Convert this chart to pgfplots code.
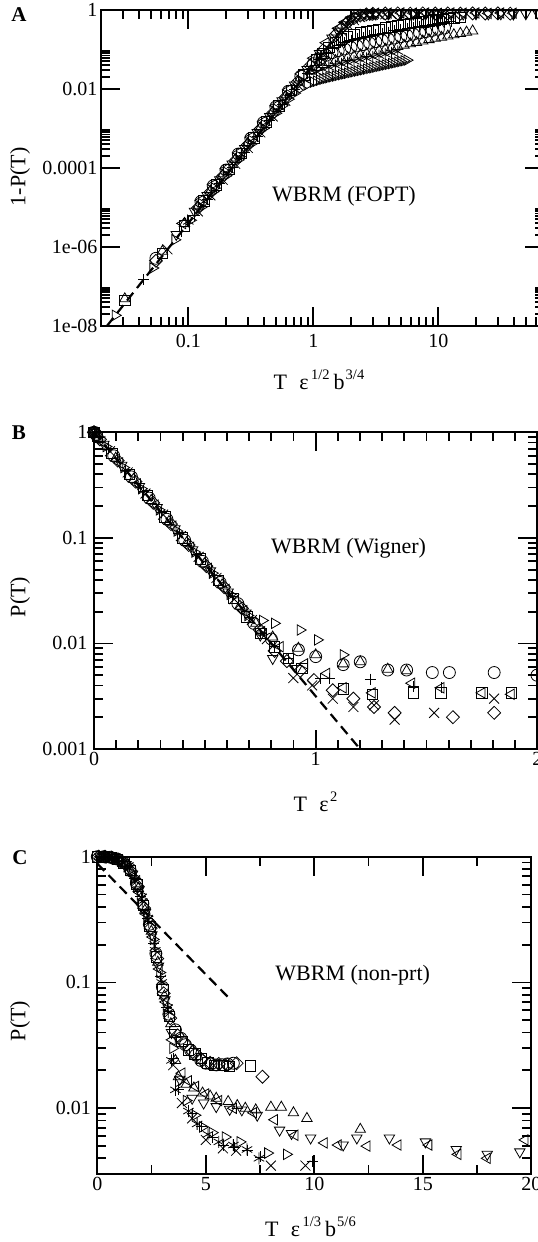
\documentclass[border=0pt]{standalone}
\usepackage{pgfplots}
\pgfplotsset{compat=1.18}
\usepackage{fontspec}
\setmainfont{Liberation Serif}

\newcommand{\sups}[1]{\raisebox{10pt}{\fontsize{14.5}{14.5}\selectfont #1}}

\pgfplotsset{
  panel/.style={
    scale only axis,
    clip=false,
    axis line style={line width=2.2pt},
    tick style={line width=1.8pt, black},
    major tick length=19pt,
    minor tick length=9pt,
    tick align=inside,
    tick pos=both,
    tick label style={font=\fontsize{20}{24}\selectfont},
    every axis plot/.append style={black, line width=0.8pt},
  },
  mO/.style={only marks, mark=o, mark size=6pt},
  mS/.style={only marks, mark=square, mark size=5.2pt},
  mD/.style={only marks, mark=square, mark size=4.6pt, mark options={rotate=45}},
  mTU/.style={only marks, mark=triangle, mark size=6pt},
  mTL/.style={only marks, mark=triangle, mark size=6pt, mark options={rotate=90}},
  mTD/.style={only marks, mark=triangle, mark size=6pt, mark options={rotate=180}},
  mTR/.style={only marks, mark=triangle, mark size=6pt, mark options={rotate=270}},
  mP/.style={only marks, mark=+, mark size=5.5pt},
  mX/.style={only marks, mark=x, mark size=7pt},
  mA/.style={only marks, mark=asterisk, mark size=6pt},
  fit/.style={no marks, line width=2.2pt, dash pattern=on 10pt off 6pt},
}

\begin{document}
\begin{tikzpicture}

% ---------------- Panel A: WBRM (FOPT), log-log ----------------
\begin{axis}[panel,
  at={(101pt,916.3pt)}, anchor=south west,
  width=443pt, height=315.7pt,
  xmode=log, ymode=log,
  xmin=0.02, xmax=70, ymin=1e-8, ymax=1,
  xtick={0.1,1,10}, xticklabels={0.1,1,10},
  minor xtick={0.03,0.04,0.05,0.06,0.07,0.08,0.09,0.2,0.3,0.4,0.5,0.6,0.7,0.8,0.9,2,3,4,5,6,7,8,9,20,30,40,50,60},
  ytick={1e-8,1e-6,1e-4,1e-2,1}, yticklabels={1e-08,1e-06,0.0001,0.01,1},
  minor ytick={2e-8,3e-8,4e-8,5e-8,6e-8,7e-8,8e-8,9e-8,2e-6,3e-6,4e-6,5e-6,6e-6,7e-6,8e-6,9e-6,2e-4,3e-4,4e-4,5e-4,6e-4,7e-4,8e-4,9e-4,2e-2,3e-2,4e-2,5e-2,6e-2,7e-2,8e-2,9e-2},
  xticklabel style={yshift=-5pt},
]
\addplot[fit] coordinates {(0.0224,1e-8) (2.1,0.78)};
% triangle right
\addplot[mTR] coordinates {(0.026,1.83e-8) (0.052,2.9e-7) (0.078,1.5e-6) (0.104,4.7e-6) (0.126,1.0e-5) (0.158,2.5e-5) (0.2,6.3e-5) (0.251,1.6e-4) (0.316,4.0e-4) (0.398,1.0e-3) (0.501,2.42e-3) (0.562,3.75e-3) (0.631,5.5e-3) (0.708,7.8e-3) (0.794,1.04e-2) (0.891,1.27e-2) (1.0,1.49e-2) (1.06,1.58e-2) (1.12,1.67e-2) (1.19,1.76e-2) (1.26,1.85e-2) (1.33,1.93e-2) (1.41,2.02e-2) (1.5,2.11e-2) (1.58,2.2e-2) (1.68,2.3e-2) (1.78,2.4e-2) (1.88,2.5e-2) (2.0,2.6e-2) (2.11,2.7e-2) (2.24,2.81e-2) (2.37,2.93e-2) (2.51,3.05e-2) (2.66,3.18e-2) (2.82,3.31e-2) (2.99,3.44e-2) (3.16,3.58e-2) (3.35,3.73e-2) (3.55,3.89e-2) (3.76,4.05e-2) (3.98,4.21e-2) (4.22,4.38e-2) (4.47,4.56e-2) (4.73,4.75e-2) (5.01,4.94e-2) (5.31,5.15e-2) (5.62,5.36e-2)};
% asterisk
\addplot[mA] coordinates {(0.1,4.4e-6) (0.133,1.39e-5) (0.168,3.5e-5) (0.211,8.7e-5) (0.266,2.2e-4) (0.335,5.5e-4) (0.422,1.39e-3) (0.531,3.44e-3) (0.668,8.1e-3) (0.841,1.7e-2) (1.06,2.72e-2) (1.19,3.16e-2) (1.33,3.54e-2) (1.5,3.92e-2) (1.68,4.28e-2) (1.88,4.65e-2) (2.11,5.05e-2) (2.37,5.49e-2) (2.66,5.95e-2) (2.99,6.46e-2) (3.35,6.99e-2) (3.76,7.58e-2) (4.22,8.22e-2) (4.73,8.9e-2)};
% triangle up
\addplot[mTU] coordinates {(0.031,4.8e-8) (0.062,7.7e-7) (0.093,3.9e-6) (0.119,1.03e-5) (0.150,2.6e-5) (0.188,6.5e-5) (0.237,1.64e-4) (0.299,4.2e-4) (0.376,1.03e-3) (0.473,2.58e-3) (0.596,6.3e-3) (0.750,1.47e-2) (0.944,2.82e-2) (1.06,3.51e-2) (1.19,4.14e-2) (1.33,4.68e-2) (1.5,5.2e-2) (1.68,5.71e-2) (1.88,6.2e-2) (2.11,6.75e-2) (2.37,7.32e-2) (2.66,7.93e-2) (2.99,8.61e-2) (3.35,9.32e-2) (3.76,0.101) (4.22,0.1096) (4.73,0.1187) (5.31,0.1287) (5.96,0.1396) (6.68,0.151) (7.5,0.164) (8.41,0.1775) (9.44,0.1926) (10.6,0.203) (11.9,0.219) (13.3,0.236) (15.0,0.255) (16.8,0.274) (18.8,0.294)};
% circle
\addplot[mO] coordinates {(0.055,5.1e-7) (0.126,1.4e-5) (0.158,3.5e-5) (0.2,8.8e-5) (0.251,2.24e-4) (0.316,5.6e-4) (0.398,1.4e-3) (0.501,3.5e-3) (0.631,8.7e-3) (0.794,2.1e-2) (1.0,4.37e-2) (1.12,5.75e-2) (1.26,7.1e-2) (1.41,8.28e-2) (1.58,9.3e-2) (1.78,0.103) (2.0,0.113) (2.24,0.123) (2.51,0.133) (2.82,0.145) (3.16,0.157) (3.55,0.17) (3.98,0.184) (4.47,0.195) (5.01,0.21) (5.62,0.226) (6.31,0.244) (7.08,0.263) (7.94,0.283) (8.91,0.304) (10.0,0.326) (11.2,0.349)};
% plus
\addplot[mP] coordinates {(0.044,1.5e-7) (0.088,2.4e-6) (0.112,6.3e-6) (0.141,1.6e-5) (0.178,4.0e-5) (0.224,1.0e-4) (0.282,2.5e-4) (0.355,6.3e-4) (0.447,1.6e-3) (0.562,4.0e-3) (0.708,9.9e-3) (0.891,2.43e-2) (1.12,5.57e-2) (1.26,7.9e-2) (1.41,0.105) (1.58,0.13) (1.78,0.152) (2.0,0.172) (2.24,0.19) (2.51,0.2015) (2.82,0.22) (3.16,0.237) (3.55,0.2555) (3.98,0.2745) (4.47,0.2955) (5.01,0.317) (5.62,0.3395) (6.31,0.3635) (7.08,0.3885) (7.94,0.414) (8.91,0.4405) (10.0,0.467) (11.2,0.494) (12.6,0.522)};
% square
\addplot[mS] coordinates {(0.031,4.3e-8) (0.062,6.8e-7) (0.093,3.4e-6) (0.133,1.45e-5) (0.168,3.7e-5) (0.211,9.1e-5) (0.266,2.3e-4) (0.335,5.75e-4) (0.422,1.45e-3) (0.531,3.7e-3) (0.668,9.1e-3) (0.841,2.27e-2) (1.06,5.4e-2) (1.19,8.0e-2) (1.33,0.1136) (1.5,0.1506) (1.68,0.186) (1.88,0.216) (2.11,0.244) (2.37,0.26) (2.66,0.282) (2.99,0.303) (3.35,0.325) (3.76,0.348) (4.22,0.372) (4.73,0.397) (5.31,0.423) (5.96,0.45) (6.68,0.477) (7.5,0.504) (8.41,0.531) (9.44,0.558) (10.6,0.585) (11.9,0.611) (13.3,0.635) (15.0,0.66)};
% diamond
\addplot[mD] coordinates {(0.055,4.4e-7) (0.119,9.5e-6) (0.150,2.4e-5) (0.188,6.0e-5) (0.237,1.5e-4) (0.299,3.8e-4) (0.376,9.5e-4) (0.473,2.4e-3) (0.596,6.0e-3) (0.750,1.51e-2) (0.944,3.84e-2) (1.19,9.4e-2) (1.5,0.23) (1.68,0.348) (1.88,0.484) (2.11,0.621) (2.37,0.721) (2.66,0.776) (2.99,0.80) (3.76,0.815) (4.73,0.82) (5.96,0.81) (7.5,0.82) (9.44,0.815) (11.9,0.82) (15.0,0.81) (18.8,0.82) (23.7,0.815) (29.9,0.82) (37.6,0.81)};
% cross
\addplot[mX] coordinates {(0.068,8.6e-7) (0.119,7.9e-6) (0.150,2.0e-5) (0.188,5.0e-5) (0.237,1.26e-4) (0.299,3.2e-4) (0.376,7.9e-4) (0.473,2.0e-3) (0.596,5.0e-3) (0.750,1.26e-2) (0.944,3.2e-2) (1.19,7.86e-2) (1.5,0.194) (1.68,0.296) (1.88,0.421) (2.11,0.556) (2.37,0.663) (2.66,0.727) (2.99,0.758) (3.35,0.77) (3.76,0.775) (4.22,0.78) (5.31,0.775) (6.68,0.78) (8.41,0.775) (10.6,0.78)};
% triangle down
\addplot[mTD] coordinates {(0.08,2.05e-6) (0.112,7.9e-6) (0.141,2.0e-5) (0.178,5.0e-5) (0.224,1.25e-4) (0.282,3.1e-4) (0.355,7.9e-4) (0.447,2.0e-3) (0.562,5.0e-3) (0.708,1.25e-2) (0.891,3.1e-2) (1.12,7.9e-2) (1.41,0.194) (1.58,0.291) (1.78,0.424) (2.0,0.562) (2.24,0.674) (2.51,0.742) (2.82,0.776) (3.16,0.79) (3.98,0.795) (5.01,0.8) (6.31,0.79) (7.94,0.8) (10.0,0.795) (12.6,0.8) (15.8,0.79) (20.0,0.8) (25.1,0.795) (31.6,0.8) (39.8,0.79) (50.1,0.8) (63.1,0.79)};
% triangle left
\addplot[mTL] coordinates {(0.09,3.9e-6) (0.126,1.5e-5) (0.158,3.75e-5) (0.2,9.5e-5) (0.251,2.4e-4) (0.316,6.0e-4) (0.398,1.5e-3) (0.501,3.75e-3) (0.631,9.5e-3) (0.794,2.4e-2) (1.0,6.0e-2) (1.26,0.148) (1.58,0.342) (1.78,0.488) (2.0,0.628) (2.24,0.733) (2.51,0.792) (2.82,0.82) (3.16,0.83) (3.98,0.835) (5.01,0.84) (6.31,0.83) (7.94,0.84) (10.0,0.82) (12.6,0.84) (15.8,0.83) (20.0,0.84) (25.1,0.82) (31.6,0.84) (39.8,0.83)};
\end{axis}

% ---------------- Panel B: WBRM (Wigner), semi-log ----------------
\begin{axis}[panel,
  at={(94pt,493pt)}, anchor=south west,
  width=443.4pt, height=316.7pt,
  ymode=log,
  xmin=0, xmax=2, ymin=1e-3, ymax=1,
  xtick={0,1,2}, xticklabels={0,1,2}, minor x tick num=9,
  ytick={0.001,0.01,0.1,1}, yticklabels={0.001,0.01,0.1,1},
  minor ytick={0.002,0.003,0.004,0.005,0.006,0.007,0.008,0.009,0.02,0.03,0.04,0.05,0.06,0.07,0.08,0.09,0.2,0.3,0.4,0.5,0.6,0.7,0.8,0.9},
  yticklabel style={xshift=-3pt},
]
\addplot[fit] coordinates {(0,1) (1.2,0.001)};
\addplot[mS] coordinates {(0,1) (0.015,0.92) (0.08,0.631) (0.16,0.398) (0.24,0.251) (0.32,0.158) (0.40,0.1) (0.48,0.0631) (0.56,0.0398) (0.63,0.0266) (0.69,0.0179) (0.752,0.0125) (0.814,0.0093) (0.876,0.0072) (0.938,0.0058) (1.124,0.0037) (1.255,0.0033) (1.441,0.0034) (1.565,0.0034) (1.75,0.0034) (1.882,0.0034)};
\addplot[mO] coordinates {(0,1) (0.009,0.95) (0.089,0.599) (0.169,0.378) (0.249,0.238) (0.329,0.15) (0.409,0.0949) (0.489,0.0599) (0.569,0.0378) (0.649,0.0238) (0.721,0.0155) (0.8,0.011) (0.922,0.0087) (1.0,0.0075) (1.124,0.0063) (1.201,0.0067) (1.325,0.0056) (1.41,0.0056) (1.526,0.0053) (1.603,0.0053) (1.805,0.0053) (1.998,0.005)};
\addplot[mTU] coordinates {(0,1) (0.018,0.902) (0.098,0.569) (0.178,0.359) (0.258,0.226) (0.338,0.143) (0.418,0.0902) (0.498,0.0569) (0.578,0.0359) (0.658,0.0226) (0.73,0.0155) (0.806,0.0115) (0.922,0.009) (1.0,0.0078) (1.124,0.0064) (1.201,0.0067) (1.325,0.0057) (1.41,0.0055)};
\addplot[mD] coordinates {(0,1) (0.027,0.856) (0.107,0.54) (0.187,0.341) (0.267,0.215) (0.347,0.135) (0.427,0.0856) (0.507,0.054) (0.587,0.0341) (0.667,0.0215) (0.747,0.0135) (0.815,0.0085) (0.87,0.0068) (0.93,0.0055) (0.992,0.0045) (1.077,0.0036) (1.17,0.003) (1.263,0.0025) (1.356,0.0022) (1.619,0.002) (1.805,0.0022)};
\addplot[mTL] coordinates {(0,1) (0.036,0.813) (0.116,0.513) (0.196,0.324) (0.276,0.204) (0.356,0.129) (0.436,0.0813) (0.516,0.0513) (0.596,0.0324) (0.676,0.0204) (0.756,0.0129) (0.84,0.0093) (0.95,0.0064) (1.05,0.0052) (1.124,0.0038) (1.255,0.0034) (1.433,0.0042) (1.565,0.0038) (1.75,0.0034) (1.882,0.0033)};
\addplot[mTD] coordinates {(0,1) (0.045,0.772) (0.125,0.487) (0.205,0.307) (0.285,0.194) (0.365,0.122) (0.445,0.0772) (0.525,0.0487) (0.605,0.0307) (0.685,0.0194) (0.75,0.012) (0.806,0.0072) (0.915,0.0058)};
\addplot[mTR] coordinates {(0,1) (0.054,0.733) (0.134,0.463) (0.214,0.292) (0.294,0.184) (0.374,0.116) (0.454,0.0733) (0.534,0.0463) (0.614,0.0292) (0.694,0.0184) (0.76,0.0165) (0.814,0.0155) (0.93,0.0134) (1.008,0.0108) (1.124,0.0078)};
\addplot[mP] coordinates {(0,1) (0.063,0.696) (0.143,0.439) (0.223,0.277) (0.303,0.175) (0.383,0.11) (0.463,0.0696) (0.543,0.0439) (0.623,0.0277) (0.703,0.0175) (0.752,0.0125) (0.814,0.0093) (0.876,0.0072) (1.023,0.0047) (1.062,0.0047) (1.247,0.0046) (1.441,0.0039) (1.565,0.0038)};
\addplot[mX] coordinates {(0,1) (0.072,0.661) (0.152,0.417) (0.232,0.263) (0.312,0.166) (0.392,0.104) (0.472,0.0661) (0.552,0.0417) (0.632,0.0263) (0.712,0.0166) (0.78,0.011) (0.899,0.0047) (0.984,0.004) (1.077,0.003) (1.17,0.0025) (1.263,0.0026) (1.356,0.0019) (1.534,0.0022) (1.805,0.003)};
\end{axis}

% ---------------- Panel C: WBRM (non-prt), semi-log ----------------
\begin{axis}[panel,
  at={(97.3pt,68pt)}, anchor=south west,
  width=434pt, height=317.3pt,
  ymode=log,
  xmin=0, xmax=20, ymin=0.003, ymax=1,
  xtick={0,5,10,15,20}, xticklabels={0,5,10,15,20}, minor x tick num=1,
  ytick={0.01,0.1,1}, yticklabels={0.01,0.1,1},
  minor ytick={0.004,0.005,0.006,0.007,0.008,0.009,0.02,0.03,0.04,0.05,0.06,0.07,0.08,0.09,0.2,0.3,0.4,0.5,0.6,0.7,0.8,0.9},
  yticklabel style={xshift=-3pt},
]
\addplot[fit] coordinates {(0,0.88) (6.12,0.0736)};
\addplot[mO] coordinates {(0,1) (0.3,1) (0.6,0.99) (0.9,0.96) (1.2,0.9) (1.5,0.8) (1.8,0.62) (2.1,0.425) (2.4,0.29) (2.7,0.17) (3.0,0.092) (3.3,0.056) (3.6,0.042) (3.85,0.036) (4.06,0.032) (4.3,0.029) (4.53,0.0265) (4.77,0.024) (5.0,0.0228) (5.24,0.0225) (5.48,0.0221) (5.75,0.0222) (6.0,0.0225) (6.27,0.0228)};
\addplot[mS] coordinates {(0.03,1) (0.33,1) (0.63,0.99) (0.93,0.955) (1.23,0.89) (1.53,0.78) (1.83,0.6) (2.13,0.41) (2.43,0.28) (2.73,0.16) (3.03,0.087) (3.33,0.054) (3.58,0.0406) (3.9,0.034) (4.2,0.029) (4.5,0.027) (4.8,0.025) (5.1,0.023) (5.4,0.022) (5.8,0.022) (6.1,0.0215) (7.06,0.0217)};
\addplot[mD] coordinates {(0.06,1) (0.36,1) (0.66,0.985) (0.96,0.95) (1.26,0.88) (1.56,0.76) (1.86,0.58) (2.16,0.39) (2.46,0.27) (2.76,0.155) (3.06,0.082) (3.36,0.052) (3.7,0.038) (4.0,0.033) (4.4,0.028) (4.8,0.0245) (5.2,0.023) (5.6,0.0225) (6.0,0.0222) (6.42,0.0228) (7.61,0.0178)};
\addplot[mTU] coordinates {(0.09,1) (0.39,0.995) (0.69,0.98) (0.99,0.94) (1.29,0.87) (1.59,0.745) (1.89,0.56) (2.19,0.375) (2.49,0.255) (2.79,0.145) (3.09,0.078) (3.39,0.047) (3.6,0.024) (3.74,0.0178) (4.1,0.0155) (4.45,0.0145) (4.85,0.0132) (5.2,0.0125) (5.48,0.012) (6.03,0.0113) (6.45,0.0105) (6.82,0.01) (7.3,0.0097) (8.0,0.0102) (8.48,0.0102) (9.04,0.0092) (9.66,0.0083) (12.12,0.0068)};
\addplot[mTD] coordinates {(0.12,1) (0.42,0.995) (0.72,0.98) (1.02,0.935) (1.32,0.865) (1.62,0.73) (1.92,0.545) (2.22,0.36) (2.52,0.24) (2.82,0.135) (3.12,0.073) (3.42,0.04) (3.8,0.017) (4.37,0.012) (4.9,0.011) (5.48,0.0103) (6.1,0.0098) (6.66,0.0097) (7.37,0.0088) (8.4,0.0067) (8.95,0.0063) (9.83,0.0058) (11.33,0.0051) (11.96,0.0058) (13.46,0.0058) (15.12,0.0054) (16.54,0.0047) (17.97,0.0043) (19.47,0.0045)};
\addplot[mTL] coordinates {(0.15,1) (0.45,0.99) (0.75,0.975) (1.05,0.93) (1.35,0.855) (1.65,0.71) (1.95,0.52) (2.25,0.35) (2.55,0.23) (2.85,0.128) (3.15,0.07) (3.45,0.035) (3.9,0.019) (4.2,0.0165) (4.53,0.0149) (5.0,0.013) (5.6,0.0115) (6.27,0.01) (7.2,0.0092) (8.17,0.0081) (9.11,0.0061) (10.46,0.0053) (11.1,0.0051) (12.43,0.005) (13.86,0.0051) (15.28,0.0051) (16.62,0.0043) (17.97,0.004) (19.71,0.0056)};
\addplot[mTR] coordinates {(0.18,1) (0.48,0.99) (0.78,0.97) (1.08,0.925) (1.38,0.845) (1.68,0.69) (1.98,0.5) (2.28,0.335) (2.58,0.22) (2.88,0.12) (3.18,0.066) (3.48,0.03) (3.74,0.0163) (4.1,0.0115) (4.5,0.0088) (4.85,0.0071) (5.3,0.0064) (5.9,0.0059) (6.58,0.0054) (7.85,0.0044) (8.72,0.0043)};
\addplot[mP] coordinates {(0.21,1) (0.51,0.99) (0.81,0.97) (1.11,0.92) (1.41,0.835) (1.71,0.67) (2.01,0.485) (2.31,0.325) (2.61,0.205) (2.91,0.112) (3.21,0.063) (3.5,0.025) (3.74,0.014) (4.37,0.0091) (4.8,0.0072) (5.32,0.0059) (5.8,0.0051) (6.3,0.0049) (6.9,0.0046) (7.53,0.0041) (9.9,0.0038)};
\addplot[mX] coordinates {(0.24,1) (0.54,0.99) (0.84,0.965) (1.14,0.91) (1.44,0.825) (1.74,0.65) (2.04,0.465) (2.34,0.315) (2.64,0.195) (2.94,0.105) (3.24,0.061) (3.5,0.022) (3.9,0.011) (4.37,0.0083) (5.0,0.0056) (5.79,0.0048) (6.4,0.0046) (8.0,0.0035) (9.59,0.0035)};
\addplot[mA] coordinates {(0.27,1) (0.57,0.99) (0.87,0.96) (1.17,0.905) (1.47,0.815) (1.77,0.64) (2.07,0.44) (2.37,0.3) (2.67,0.18) (2.97,0.1) (3.27,0.058) (3.42,0.024) (3.6,0.014) (4.2,0.0095) (4.6,0.0075) (5.1,0.0062) (5.6,0.0054) (6.27,0.0051) (6.9,0.0047) (7.45,0.004)};
\end{axis}

% panel letters
\node at (19pt,1227pt) {\fontsize{21}{21}\selectfont\bfseries A};
\node at (19pt,809.5pt) {\fontsize{21}{21}\selectfont\bfseries B};
\node at (20pt,384pt) {\fontsize{21}{21}\selectfont\bfseries C};

% axis titles
\node[rotate=90] at (20pt,1065pt) {\fontsize{22}{26}\selectfont 1-P(T)};
\node[rotate=90] at (20pt,645pt) {\fontsize{22}{26}\selectfont P(T)};
\node[rotate=90] at (20pt,221pt) {\fontsize{22}{26}\selectfont P(T)};

\node[anchor=base] at (319pt,852pt) {\fontsize{22}{26}\selectfont T\hspace{0.55em}ε\hspace{0.12em}\sups{1/2}\hspace{0.18em}b\hspace{0.05em}\sups{3/4}};
\node[anchor=base] at (315.6pt,430.3pt) {\fontsize{22}{26}\selectfont T\hspace{0.55em}ε\hspace{0.08em}\sups{2}};
\node[anchor=base] at (310.5pt,5.3pt) {\fontsize{22}{26}\selectfont T\hspace{0.55em}ε\hspace{0.12em}\sups{1/3}\hspace{0.18em}b\hspace{0.05em}\sups{5/6}};

% in-plot annotations
\node[anchor=base] at (344pt,1040.3pt) {\fontsize{22}{26}\selectfont WBRM (FOPT)};
\node[anchor=base] at (348.6pt,688.7pt) {\fontsize{22}{26}\selectfont WBRM (Wigner)};
\node[anchor=base] at (352.7pt,261.3pt) {\fontsize{22}{26}\selectfont WBRM (non-prt)};

\pgfresetboundingbox
\useasboundingbox (0,0) rectangle (538pt,1242pt);
\end{tikzpicture}
\end{document}
